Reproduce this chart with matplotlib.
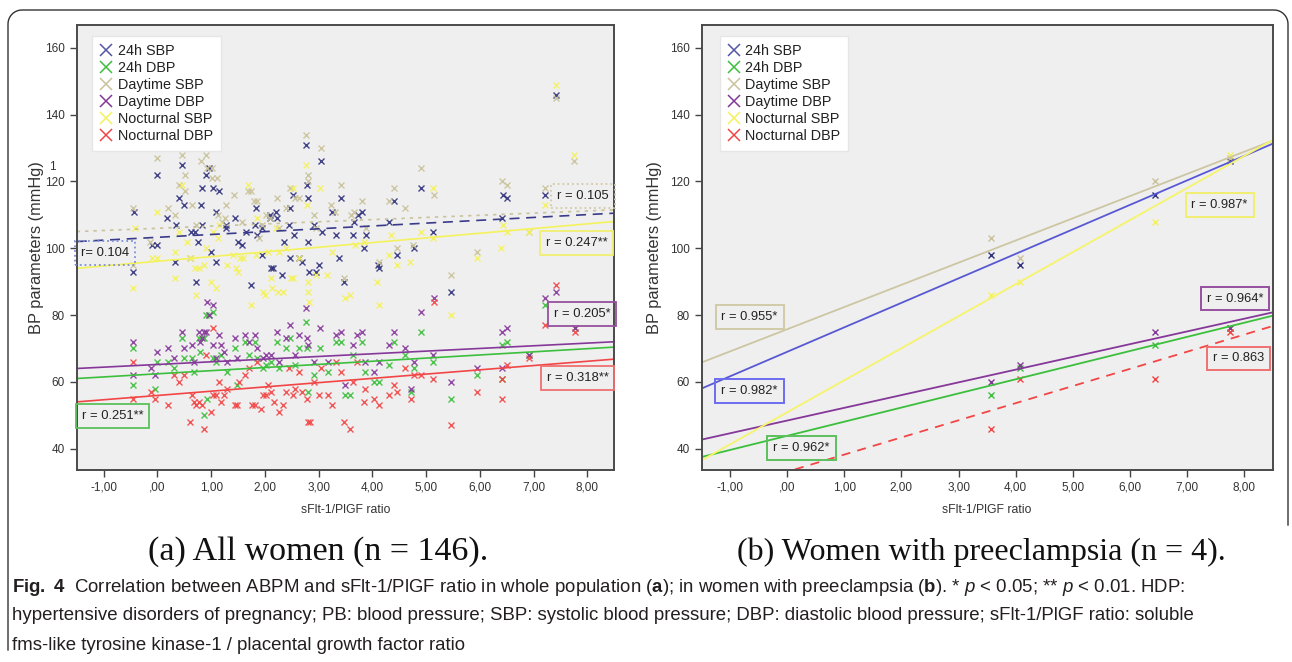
import numpy as np
import matplotlib
matplotlib.use("Agg")
import matplotlib.pyplot as plt
from matplotlib.lines import Line2D
from matplotlib.ticker import FixedLocator, FuncFormatter

# ---- data: (a) all women, (ratio, mmHg) ----
sbp24_all = [(-0.45, 93), (-0.43, 111), (0, 122), (-0.1, 101), (0, 101), (0.18, 109), (0.32, 96),
             (0.34, 107), (0.4, 115), (0.45, 125), (0.49, 113), (0.63, 105), (0.7, 105), (0.72, 90),
             (0.75, 102), (0.83, 107), (0.83, 118), (0.82, 113), (0.91, 122), (0.96, 124), (1, 99),
             (1.04, 118), (1.1, 111), (1.15, 117), (1.1, 96), (1.27, 107), (1.28, 106), (1.45, 109),
             (1.5, 102), (1.58, 101), (1.65, 105), (1.75, 89), (1.82, 107), (1.86, 104), (1.84, 112),
             (1.94, 98), (1.95, 106), (2.09, 109), (2.1, 110), (2.12, 94), (2.16, 94), (2.2, 111),
             (2.23, 109), (2.31, 92), (2.35, 102), (2.44, 107), (2.46, 97), (2.47, 112), (2.53, 116),
             (2.55, 104), (2.64, 97), (2.7, 96), (2.77, 131), (2.79, 119), (2.8, 115), (2.8, 102),
             (2.82, 93), (2.92, 107), (2.96, 93), (3, 95), (3.04, 126), (3.06, 105), (3.24, 111),
             (3.33, 104), (3.38, 97), (3.42, 115), (3.48, 90), (3.64, 104), (3.66, 108), (3.73, 110),
             (3.8, 111), (3.84, 100), (3.89, 104), (4.1, 95), (4.13, 94), (4.31, 108), (4.4, 114),
             (4.45, 98), (4.78, 100), (4.91, 118), (5.13, 105), (5.46, 87), (6.42, 109), (6.44, 116),
             (6.51, 115), (7.22, 116), (7.41, 146)]
dbp24_all = [(-0.45, 70), (-0.45, 59), (0, 66), (-0.05, 58), (0.19, 66), (0.31, 64), (0.45, 73),
             (0.49, 67), (0.64, 67), (0.69, 63), (0.78, 73), (0.8, 69), (0.87, 73), (0.91, 80),
             (0.96, 80), (1.04, 81), (0.87, 50), (0.92, 55), (1.04, 67), (1.1, 66), (1.18, 68),
             (1.3, 63), (1.44, 70), (1.48, 59), (1.63, 72), (1.71, 68), (1.81, 72), (1.86, 67),
             (1.96, 64), (2.02, 65), (2.11, 66), (2.23, 72), (2.26, 64), (2.4, 70), (2.47, 73),
             (2.56, 65), (2.64, 70), (2.77, 78), (2.79, 70), (2.8, 57), (2.92, 62), (3.02, 70),
             (3.18, 63), (3.32, 72), (3.41, 72), (3.5, 56), (3.64, 68), (3.58, 56), (3.8, 72),
             (3.87, 63), (4.03, 60), (4.12, 60), (4.31, 65), (4.41, 72), (4.6, 68), (4.72, 57),
             (4.78, 64), (4.91, 75), (5.13, 66), (5.46, 55), (5.94, 62), (6.42, 61), (6.51, 72),
             (6.42, 71), (6.92, 68), (7.22, 83), (7.77, 76)]
daysbp_all = [(-0.45, 112), (-0.45, 95), (0, 127), (-0.13, 102), (0.19, 112), (0.32, 110), (0.4, 119),
              (0.45, 128), (0.51, 122), (0.51, 117), (0.64, 113), (0.6, 97), (0.72, 107), (0.82, 126),
              (0.91, 128), (0.92, 124), (1.01, 124), (1.01, 121), (1.11, 121), (1.13, 110), (1.2, 108),
              (1.27, 113), (1.25, 109), (1.42, 116), (1.58, 108), (1.69, 117), (1.74, 117), (1.79, 114),
              (1.86, 114), (1.9, 103), (1.95, 107), (2.02, 110), (2.1, 109), (2.23, 115), (2.26, 106),
              (2.39, 112), (2.46, 118), (2.56, 115), (2.63, 115), (2.77, 134), (2.8, 122), (2.8, 120),
              (2.92, 110), (2.96, 106), (3.04, 130), (3.23, 113), (3.31, 111), (3.42, 119), (3.48, 91),
              (3.6, 110), (3.66, 111), (3.8, 114), (3.89, 106), (4.12, 96), (4.31, 114), (4.41, 118),
              (4.45, 100), (4.6, 112), (4.76, 101), (4.91, 124), (5.15, 116), (5.46, 92), (5.94, 99),
              (6.41, 120), (6.51, 119), (6.92, 105), (7.22, 118), (7.41, 145), (7.76, 126)]
daydbp_all = [(-0.45, 72), (-0.45, 62), (-0.12, 64), (0, 69), (-0.05, 62), (0.19, 70), (0.31, 67),
              (0.45, 75), (0.49, 70), (0.64, 71), (0.69, 66), (0.78, 75), (0.8, 72), (0.83, 73),
              (0.87, 75), (0.91, 75), (0.92, 84), (0.96, 80), (1.04, 83), (1.04, 71), (1.1, 67),
              (1.14, 74), (1.18, 71), (1.24, 69), (1.3, 66), (1.44, 73), (1.48, 67), (1.63, 74),
              (1.71, 72), (1.81, 74), (1.86, 70), (1.96, 67), (2.02, 68), (2.11, 68), (2.23, 75),
              (2.26, 66), (2.4, 73), (2.47, 77), (2.56, 68), (2.64, 74), (2.77, 82), (2.79, 73),
              (2.8, 71), (2.92, 66), (3.02, 76), (3.18, 66), (3.32, 74), (3.41, 75), (3.5, 59),
              (3.64, 71), (3.72, 74), (3.8, 75), (3.87, 66), (4.03, 63), (4.12, 66), (4.31, 71),
              (4.41, 75), (4.6, 70), (4.72, 58), (4.78, 66), (4.91, 81), (5.13, 68), (5.15, 85),
              (5.46, 60), (5.94, 64), (6.42, 75), (6.51, 76), (6.42, 64), (6.92, 68), (7.22, 85),
              (7.41, 87), (7.77, 76)]
nocsbp_all = [(-0.45, 88), (-0.42, 106), (-0.1, 97), (0, 111), (0, 97), (0.32, 91), (0.32, 99),
              (0.45, 119), (0.41, 105), (0.55, 102), (0.62, 97), (0.72, 86), (0.7, 94), (0.77, 94),
              (0.86, 95), (0.91, 100), (1, 90), (1.04, 105), (1.1, 88), (1.13, 103), (1.14, 107),
              (1.3, 95), (1.4, 98), (1.46, 94), (1.5, 93), (1.54, 97), (1.59, 97), (1.69, 119),
              (1.75, 83), (1.84, 98), (1.86, 109), (1.96, 87), (2, 86), (2.05, 99), (2.12, 91),
              (2.14, 88), (2.2, 106), (2.25, 87), (2.27, 99), (2.33, 87), (2.4, 100), (2.48, 91),
              (2.53, 91), (2.53, 118), (2.64, 97), (2.77, 125), (2.79, 113), (2.8, 90), (2.81, 87),
              (2.83, 84), (2.96, 92), (3.02, 118), (3.16, 92), (3.25, 99), (3.49, 85), (3.58, 86),
              (3.68, 101), (3.84, 102), (4.09, 90), (4.12, 83), (4.31, 98), (4.35, 104), (4.45, 95),
              (4.7, 96), (4.9, 105), (5.13, 103), (5.13, 118), (5.46, 80), (5.94, 97), (6.4, 100),
              (6.44, 107), (6.51, 105), (7.22, 113), (7.41, 149), (7.76, 128), (6.91, 105)]
nocdbp_all = [(-0.45, 55), (-0.45, 66), (-0.12, 57), (-0.05, 55), (0.19, 53), (0.31, 62), (0.4, 60),
              (0.49, 62), (0.61, 48), (0.64, 56), (0.69, 54), (0.72, 53), (0.78, 54), (0.83, 53),
              (0.87, 46), (0.91, 68), (1, 51), (1.04, 76), (1.04, 56), (1.1, 56), (1.14, 60),
              (1.18, 54), (1.24, 56), (1.3, 58), (1.44, 53), (1.48, 53), (1.51, 60), (1.63, 62),
              (1.71, 64), (1.76, 53), (1.81, 53), (1.86, 66), (1.92, 52), (1.96, 56), (2.02, 56),
              (2.06, 59), (2.11, 57), (2.17, 54), (2.26, 51), (2.33, 53), (2.4, 57), (2.44, 64),
              (2.52, 56), (2.56, 58), (2.64, 63), (2.69, 57), (2.79, 55), (2.8, 48), (2.84, 48),
              (2.92, 60), (3, 56), (3.04, 64), (3.18, 56), (3.24, 53), (3.32, 66), (3.41, 63),
              (3.48, 48), (3.58, 46), (3.64, 60), (3.72, 66), (3.84, 54), (3.87, 58), (4.03, 55),
              (4.12, 53), (4.31, 56), (4.41, 59), (4.45, 57), (4.6, 64), (4.72, 55), (4.78, 62),
              (4.91, 62), (5.13, 61), (5.15, 84), (5.46, 47), (5.94, 57), (6.41, 55), (6.42, 61),
              (6.51, 65), (6.92, 67), (7.22, 77), (7.41, 89), (7.77, 75)]

# ---- data: (b) women with preeclampsia ----
pe_ratio = [3.56, 4.08, 6.44, 7.76]
sbp24_pe = [98, 95, 116, 126]
dbp24_pe = [56, 64, 71, 76]
daysbp_pe = [103, 97, 120, 127]
daydbp_pe = [60, 65, 75, 76]
nocsbp_pe = [86, 90, 108, 128]
nocdbp_pe = [46, 61, 61, 75]

labels = ["24h SBP", "24h DBP", "Daytime SBP", "Daytime DBP", "Nocturnal SBP", "Nocturnal DBP"]
colors = ["#30307c", "#3cbf3c", "#c9c29b", "#86389a", "#f4f25c", "#f24646"]
leg_colors = ["#5555a8", "#3cbf3c", "#c9c29b", "#86389a", "#f4f25c", "#f24646"]
line_colors_b = ["#5858d4", "#3cbf3c", "#cdc6a2", "#86389a", "#f6f46a", "#f24646"]

# fit lines: mmHg at ratio -1.5 and 8.5
fit_x = [-1.5, 8.5]
fit_all = [(102, 110.5), (61, 70.4), (105, 111.5), (64, 72), (94, 108), (54, 66.8)]
fit_all_style = ["--", "-", ":", "-", "-", "-"]
fit_pe = [(58, 131.3), (37.5, 79.8), (65.8, 132.2), (42.7, 80.8), (36.5, 132.4), (25.4, 76.7)]
fit_pe_style = ["-", "-", "-", "-", "-", "--"]

# r-value boxes: text, x centre, y centre, series index, box linestyle
r_all = [("r= 0.104", -0.97, 98.6, 0, ":"), ("r = 0.105", 7.92, 115.6, 2, ":"),
         ("r = 0.247**", 7.8, 101.6, 4, "-"), ("r = 0.205*", 7.9, 80.3, 3, "-"),
         ("r = 0.318**", 7.82, 61.2, 5, "-"), ("r = 0.251**", -0.83, 49.8, 1, "-")]
r_pe = [("r = 0.955*", -0.66, 79.5, 2), ("r = 0.982*", -0.66, 57.2, 0), ("r = 0.962*", 0.25, 40.2, 1),
        ("r = 0.987*", 7.57, 112.9, 4), ("r = 0.964*", 7.84, 84.9, 3), ("r = 0.863", 7.9, 67.0, 5)]
box_colors_b = ["#6c6cf0", "#5cc05c", "#d2cba8", "#96509e", "#f2f070", "#f07070"]
box_colors_a = ["#7d8fd8", "#5cc05c", "#d2cba8", "#96509e", "#f2f070", "#f07070"]

xticks = [-1, 0, 1, 2, 3, 4, 5, 6, 7, 8]
yticks = [40, 60, 80, 100, 120, 140, 160]

plt.rcParams['font.family'] = ['Liberation Sans', 'DejaVu Sans']
plt.rcParams['mathtext.fontset'] = 'custom'
plt.rcParams['mathtext.rm'] = 'Liberation Sans'
plt.rcParams['mathtext.it'] = 'Liberation Sans:italic'
plt.rcParams['mathtext.bf'] = 'Liberation Sans:bold'

fig = plt.figure(figsize=(12.92, 6.62), dpi=100)


def ratio_fmt(v, pos):
    s = "%.2f" % v
    s = s.replace(".", ",")
    if s.startswith("0,"):
        s = s[1:]
    return s


def style_axes(ax, ylab_x):
    ax.set_facecolor("#efefef")
    ax.set_xlim(-1.5, 8.5)
    ax.set_ylim(33.6, 166.8)
    ax.xaxis.set_major_locator(FixedLocator(xticks))
    ax.yaxis.set_major_locator(FixedLocator(yticks))
    ax.xaxis.set_major_formatter(FuncFormatter(ratio_fmt))
    ax.tick_params(direction="out", length=5, width=1, color="#444444", labelsize=8.5,
                   labelcolor="#333333")
    for s in ax.spines.values():
        s.set_color("#4a4a4a")
        s.set_linewidth(1.4)
    ax.set_xlabel("sFlt-1/PlGF ratio", fontsize=8.8, color="#333333", labelpad=7)
    ax.set_ylabel("BP parameters (mmHg)", fontsize=11.8, color="#333333")
    ax.yaxis.set_label_coords(ylab_x, 0.5)


def add_legend(ax, x0):
    handles = [Line2D([], [], ls="none", marker="x", ms=8.5, mew=1.1, color=c) for c in leg_colors]
    leg = ax.legend(handles, labels, loc="upper left", bbox_to_anchor=(x0, 0.975), borderaxespad=0,
                    fontsize=10.4, handlelength=0.8, handletextpad=0.4, labelspacing=0.2,
                    borderpad=0.55, fancybox=False, framealpha=1, facecolor="white",
                    edgecolor="#e6e6e6")
    for t in leg.get_texts():
        t.set_color("#222222")


# ---- panel (a) ----
ax1 = fig.add_axes([0.0594, 0.290, 0.416, 0.672])
series_all = [sbp24_all, dbp24_all, daysbp_all, daydbp_all, nocsbp_all, nocdbp_all]
for pts, c in zip(series_all, colors):
    arr = np.array(pts)
    ax1.plot(arr[:, 0], arr[:, 1], ls="none", marker="x", ms=4.2, mew=1.0, color=c, alpha=0.9)
for (y0, y1), c, ls in zip(fit_all, colors, fit_all_style):
    lc = c if ls != "--" else "#3a3a8a"
    ax1.plot(fit_x, [y0, y1], color=lc, ls=ls, lw=1.2,
             dashes=(6, 4) if ls == "--" else ((2, 3) if ls == ":" else (None, None)))
for txt, x, y, i, ls in r_all:
    ax1.text(x, y, txt, ha="center", va="center", fontsize=9.4, color="#222222",
             bbox=dict(boxstyle="square,pad=0.45", fc="none", ec=box_colors_a[i], lw=1.3, ls=ls))
style_axes(ax1, -0.061)
add_legend(ax1, 0.029)

# ---- panel (b) ----
ax2 = fig.add_axes([0.543, 0.290, 0.442, 0.672])
series_pe = [sbp24_pe, dbp24_pe, daysbp_pe, daydbp_pe, nocsbp_pe, nocdbp_pe]
for ys, c in zip(series_pe, colors):
    ax2.plot(pe_ratio, ys, ls="none", marker="x", ms=4.5, mew=1.0, color=c)
for (y0, y1), c, ls in zip(fit_pe, line_colors_b, fit_pe_style):
    ax2.plot(fit_x, [y0, y1], color=c, ls=ls, lw=1.3,
             dashes=(5, 4) if ls == "--" else (None, None))
for txt, x, y, i in r_pe:
    ax2.text(x, y, txt, ha="center", va="center", fontsize=9.3, color="#222222",
             bbox=dict(boxstyle="square,pad=0.45", fc="none", ec=box_colors_b[i], lw=1.4))
style_axes(ax2, -0.069)
add_legend(ax2, 0.032)

# stray glyph in the original left panel
fig.text(52 / 1292, 1 - 167 / 662, "1", fontsize=8.5, color="#333333", ha="center", va="center")

# ---- sub captions ----
fig.text(318 / 1292, 1 - 552 / 662, "(a) All women (n = 146).", family="Liberation Serif",
         fontsize=24.5, ha="center", va="center", color="#111111")
fig.text(981 / 1292, 1 - 552 / 662, "(b) Women with preeclampsia (n = 4).", family="Liberation Serif",
         fontsize=23, ha="center", va="center", color="#111111")

cap_lines = [
    r"$\mathbf{Fig.\ 4}$  Correlation between ABPM and sFlt-1/PlGF ratio in whole population ($\mathbf{a}$); "
    r"in women with preeclampsia ($\mathbf{b}$). * $\mathit{p}$ < 0.05; ** $\mathit{p}$ < 0.01. HDP:",
    "hypertensive disorders of pregnancy; PB: blood pressure; SBP: systolic blood pressure; "
    "DBP: diastolic blood pressure; sFlt-1/PlGF ratio: soluble",
    "fms-like tyrosine kinase-1 / placental growth factor ratio",
]
for k, line in enumerate(cap_lines):
    fig.text(12 / 1292, 1 - (587 + 29 * k) / 662, line, family="Liberation Sans",
             fontsize=13.4, ha="left", va="center", color="#231f20")

# ---- outer rounded frame ----
rad = 14
t = np.linspace(0, np.pi / 2, 12)
fx = ([8] + list(8 + rad - rad * np.cos(t)) + list(1288 - rad + rad * np.sin(t)) + [1288])
fy = ([650] + list(10 + rad - rad * np.sin(t)) + list(10 + rad - rad * np.cos(t)) + [525])
fig.add_artist(Line2D(np.array(fx) / 1292, 1 - np.array(fy) / 662, color="#333333", lw=1.0))

fig.savefig("out.png", dpi=100)
